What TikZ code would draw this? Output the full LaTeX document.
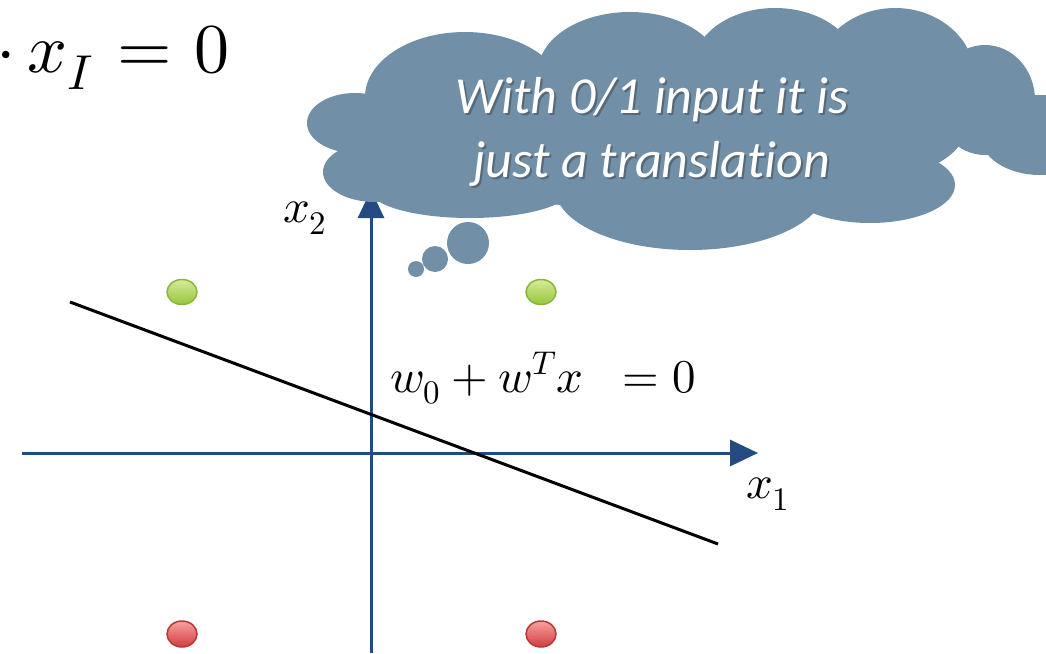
\documentclass[tikz,border=0pt]{standalone}
\usepackage{fontspec}
\usepackage{unicode-math}
\newfontfamily\cloudfont{Carlito}[Ligatures=NoCommon]
\usetikzlibrary{arrows.meta,shapes.geometric}
\definecolor{axisblue}{RGB}{35,75,130}
\definecolor{cloudcol}{RGB}{113,143,166}
\definecolor{shadowcol}{RGB}{70,80,90}
\definecolor{gtop}{RGB}{214,236,150}
\definecolor{gbot}{RGB}{150,198,62}
\definecolor{gline}{RGB}{140,180,60}
\definecolor{rtop}{RGB}{248,160,160}
\definecolor{rbot}{RGB}{208,62,62}
\definecolor{rline}{RGB}{185,55,55}
\tikzset{
  axis/.style={draw=axisblue,line width=3pt,-{Triangle[length=28pt,width=26pt]}},
  sep/.style={draw=black,line width=3pt},
  gdot/.style={ellipse,minimum width=30pt,minimum height=25pt,inner sep=0pt,draw=gline,line width=1.5pt,top color=gtop,bottom color=gbot},
  rdot/.style={ellipse,minimum width=30pt,minimum height=26pt,inner sep=0pt,draw=rline,line width=1.5pt,top color=rtop,bottom color=rbot},
  lbl/.style={inner sep=0pt,font=\fontsize{47}{50}\selectfont},
  cloudtext/.style={text=white,font=\cloudfont\itshape\fontsize{52}{64}\selectfont,align=center,inner sep=0pt},
  puff/.style={fill=cloudcol}
}
\begin{document}
\begin{tikzpicture}[x=1pt,y=-1pt]
\useasboundingbox (0,0) rectangle (1046,653);
% top-left equation fragment
\node[anchor=base east,inner sep=0pt,font=\fontsize{70}{80}\selectfont] (eq) at (230,72) {$\cdot\, x_I \mkern6mu{=}\mkern6mu 0$};
% axes
\coordinate (hx0) at (22,453);
\coordinate (hx1) at (758,453);
\coordinate (vy0) at (371,653);
\coordinate (vy1) at (371,190);
\draw[axis] (hx0) -- (hx1);
\draw[axis] (vy0) -- (vy1);
\node[lbl] (lx1) at (768,494) {$x_1$};
\node[lbl] (lx2) at (305,218) {$x_2$};
% separating line
\coordinate (s0) at (70,302);
\coordinate (s1) at (718,544);
\draw[sep] (s0) -- (s1);
\node[lbl,anchor=base west] (weq) at (390,392) {$w_0 + w^T x\;\; = 0$};
% dots
\node[gdot] (g1) at (182,292) {};
\node[gdot] (g2) at (541,292) {};
\node[rdot] (r1) at (182,634) {};
\node[rdot] (r2) at (541,634) {};
% cloud
\begin{scope}
\fill[puff] (355,123) ellipse [x radius=48,y radius=30];
\fill[puff] (375,172) ellipse [x radius=52,y radius=30];
\fill[puff] (470,190) ellipse [x radius=100,y radius=28];
\fill[puff] (465,97) ellipse [x radius=100,y radius=65];
\fill[puff] (630,72) ellipse [x radius=92,y radius=60];
\fill[puff] (775,67) ellipse [x radius=82,y radius=59];
\fill[puff] (895,78) ellipse [x radius=80,y radius=70];
\fill[puff] (985,100) ellipse [x radius=50,y radius=55];
\fill[puff] (1040,135) ellipse [x radius=60,y radius=40];
\fill[puff] (870,185) ellipse [x radius=85,y radius=38];
\fill[puff] (690,188) ellipse [x radius=135,y radius=62];
\fill[puff] (665,130) ellipse [x radius=300,y radius=80];
\fill[puff] (468,243) circle [radius=21];
\fill[puff] (435,259) circle [radius=13];
\fill[puff] (416,269) circle [radius=8];
\end{scope}
\node[cloudtext,text=shadowcol,opacity=0.6] (cts) at (654,134) {With 0/1 input it is\\just a translation};
\node[cloudtext] (ct) at (652,132) {With 0/1 input it is\\just a translation};
\end{tikzpicture}
\end{document}
